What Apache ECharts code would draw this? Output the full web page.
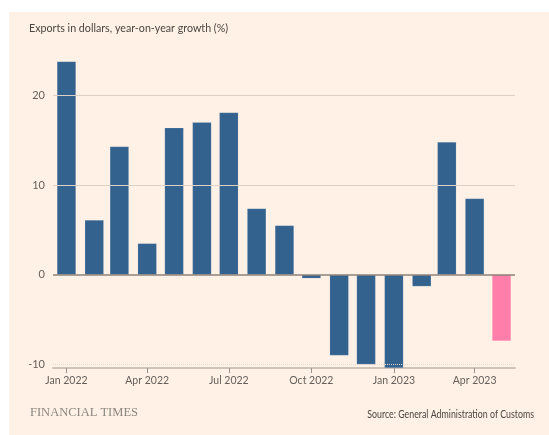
<!DOCTYPE html>
<html>
<head>
<meta charset="utf-8">
<script src="https://cdn.jsdelivr.net/npm/echarts@6/dist/echarts.min.js"></script>
<style>
html,body{margin:0;padding:0;background:#ffffff;}
#chart{width:549px;height:435px;}
</style>
</head>
<body>
<div id="chart"></div>
<script>
// Data
const months = ['2022-01','2022-02','2022-03','2022-04','2022-05','2022-06','2022-07','2022-08','2022-09','2022-10','2022-11','2022-12','2023-01','2023-02','2023-03','2023-04','2023-05'];
const exportGrowth = [23.8, 6.1, 14.3, 3.5, 16.4, 17.0, 18.1, 7.4, 5.5, -0.4, -9.0, -10.0, -10.4, -1.3, 14.8, 8.5, -7.4];
const tickMonths = ['2022-01','2022-04','2022-07','2022-10','2023-01','2023-04'];
const tickLabels = ['Jan 2022','Apr 2022','Jul 2022','Oct 2022','Jan 2023','Apr 2023'];
const yTicks = [-10, 0, 10, 20];

function ts(m){ const p = m.split('-'); return Date.UTC(+p[0], +p[1]-1, 1); }
const tickTs = tickMonths.map(ts);
const labelMap = {};
tickTs.forEach((t,i)=>{ labelMap[t] = tickLabels[i]; });

const seriesData = months.map((m,i)=>({
  value:[ts(m), exportGrowth[i]],
  itemStyle:{color: i === months.length-1 ? '#ff7faa' : '#33628f'}
}));

const chart = echarts.init(document.getElementById('chart'), null, {renderer:'canvas'});
chart.setOption({
  animation:false,
  backgroundColor:'#ffffff',
  graphic:[
    {type:'rect', left:9, top:12, shape:{width:540, height:423}, style:{fill:'#fff1e5'}, z:-10},
    {type:'text', x:29, y:22, scaleX:0.89, style:{text:'Exports in dollars, year-on-year growth (%)', font:'12px Lato', fill:'#4a4541', verticalAlign:'top'}},
    {type:'text', x:30, y:406, style:{text:'FINANCIAL TIMES', font:'12.5px "Liberation Serif"', fill:'#8c8680', verticalAlign:'top'}},
    {type:'text', x:534, y:409, scaleX:0.84, style:{text:'Source: General Administration of Customs', font:'10.5px Lato', fill:'#4a4541', align:'right', verticalAlign:'top'}}
  ],
  grid:{left:53, right:34, top:56, bottom:67},
  xAxis:{
    type:'value',
    min:Date.UTC(2021,11,17),
    max:Date.UTC(2023,4,16),
    axisLine:{show:true, onZero:false, lineStyle:{color:'#cfc4ba', width:2}},
    axisTick:{show:true, customValues:tickTs, length:5, lineStyle:{color:'#9a928c', width:1}},
    axisLabel:{customValues:tickTs, formatter:(v)=>labelMap[v]||'', color:'#66605c', fontSize:10.5, fontFamily:'Lato', margin:7, hideOverlap:false, showMinLabel:true, showMaxLabel:true},
    splitLine:{show:false}
  },
  yAxis:{
    type:'value',
    min:-10.4, max:24.4,
    axisLine:{show:false},
    axisTick:{show:false},
    axisLabel:{customValues:yTicks, color:'#66605c', fontSize:11, fontFamily:'Lato', margin:8},
    splitLine:{show:false}
  },
  series:[{
    type:'bar',
    data:seriesData,
    barWidth:19,
    itemStyle:{borderColor:'rgba(255,255,255,0.25)', borderWidth:0.5},
    markLine:{
      silent:true, symbol:'none', label:{show:false},
      data:[
        {yAxis:20, lineStyle:{color:'#ddd1c6', width:1, type:'solid'}},
        {yAxis:10, lineStyle:{color:'#ddd1c6', width:1, type:'solid'}},
        {yAxis:-10, lineStyle:{color:'#e2d7cd', width:1, type:'dotted'}},
        {yAxis:0, lineStyle:{color:'#8e8178', width:1.5, type:'solid'}}
      ]
    }
  }]
});
</script>
</body>
</html>
